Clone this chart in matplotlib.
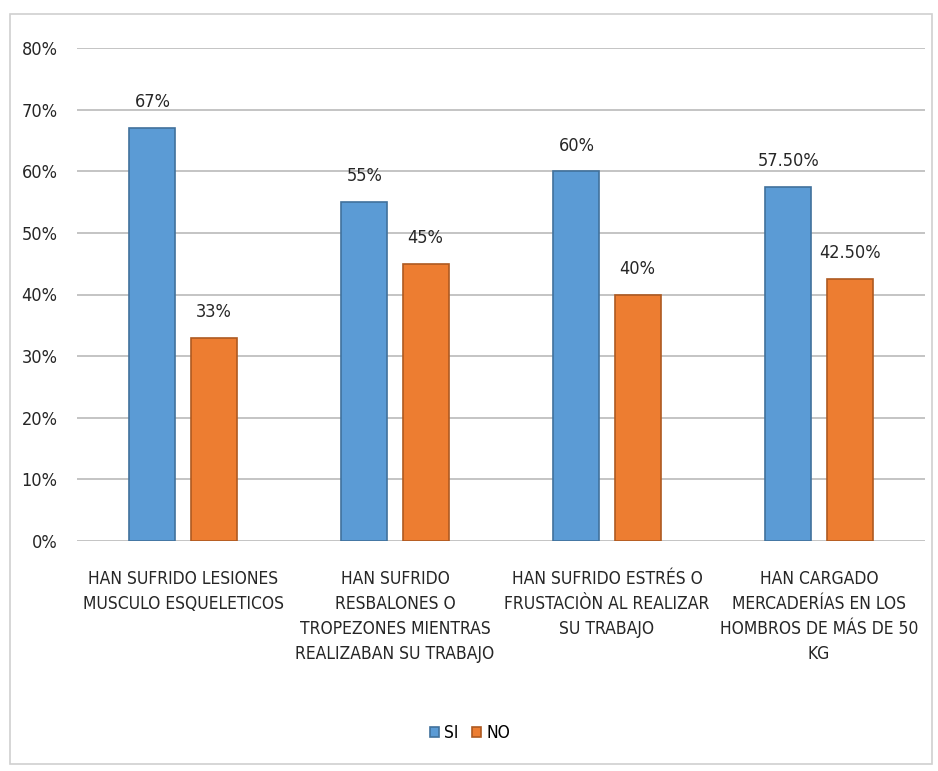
import numpy as np
import matplotlib.pyplot as plt
from matplotlib.patches import Rectangle

categories = [
    'HAN SUFRIDO LESIONES\nMUSCULO ESQUELETICOS',
    'HAN SUFRIDO\nRESBALONES O\nTROPEZONES MIENTRAS\nREALIZABAN SU TRABAJO',
    'HAN SUFRIDO ESTRÉS O\nFRUSTACIÒN AL REALIZAR\nSU TRABAJO',
    'HAN CARGADO\nMERCADERÍAS EN LOS\nHOMBROS DE MÁS DE 50\nKG',
]
si = [67, 55, 60, 57.5]
no = [33, 45, 40, 42.5]
si_labels = ['67%', '55%', '60%', '57.50%']
no_labels = ['33%', '45%', '40%', '42.50%']

plt.rcParams['font.family'] = ['DejaVu Sans']
plt.rcParams['font.stretch'] = 'condensed'
plt.rcParams['font.size'] = 11.5

fig = plt.figure(figsize=(9.38, 7.71), dpi=100)
fig.patches.append(Rectangle((10 / 938, 7 / 771), 922 / 938, 750 / 771,
                             transform=fig.transFigure, fill=False,
                             edgecolor='#D0D0D0', linewidth=1.2))

ax = fig.add_axes([77 / 938, 1 - 541 / 771, 848 / 938, 493 / 771])
x = np.arange(len(categories))
w = 0.217
off = 0.144

b1 = ax.bar(x - off, si, w, color='#5B9BD5', edgecolor='#41719C', linewidth=1.2, label='SI', zorder=3)
b2 = ax.bar(x + off, no, w, color='#ED7D31', edgecolor='#AE5A21', linewidth=1.2, label='NO', zorder=3)

for bars, labs in ((b1, si_labels), (b2, no_labels)):
    for b, lab in zip(bars, labs):
        ax.annotate(lab, (b.get_x() + b.get_width() / 2, b.get_height()),
                    xytext=(0, 12), textcoords='offset points',
                    ha='center', va='bottom', fontsize=13, color='#262626')

ax.set_xlim(-0.5, 3.5)
ax.set_ylim(0, 80)
ax.set_yticks(np.arange(0, 81, 10))
ax.set_yticklabels([f'{v}%' for v in range(0, 81, 10)], fontsize=13, color='#262626')
ax.set_xticks(x)
ax.set_xticklabels(categories, fontsize=12.5, color='#262626', linespacing=1.5)
ax.tick_params(axis='both', length=0)
ax.tick_params(axis='y', pad=14)
ax.tick_params(axis='x', pad=21)
ax.grid(axis='y', color='#BFBFBF', linewidth=1.3, zorder=0)
for s in ax.spines.values():
    s.set_visible(False)

fig.legend(handles=[b1, b2], labels=['SI', 'NO'], loc='center',
           bbox_to_anchor=(470 / 938, 1 - 733 / 771), ncol=2, frameon=False,
           handlelength=0.5, handleheight=0.5, handletextpad=0.3,
           columnspacing=0.8, fontsize=12.5)

fig.savefig('out.png', dpi=100)
